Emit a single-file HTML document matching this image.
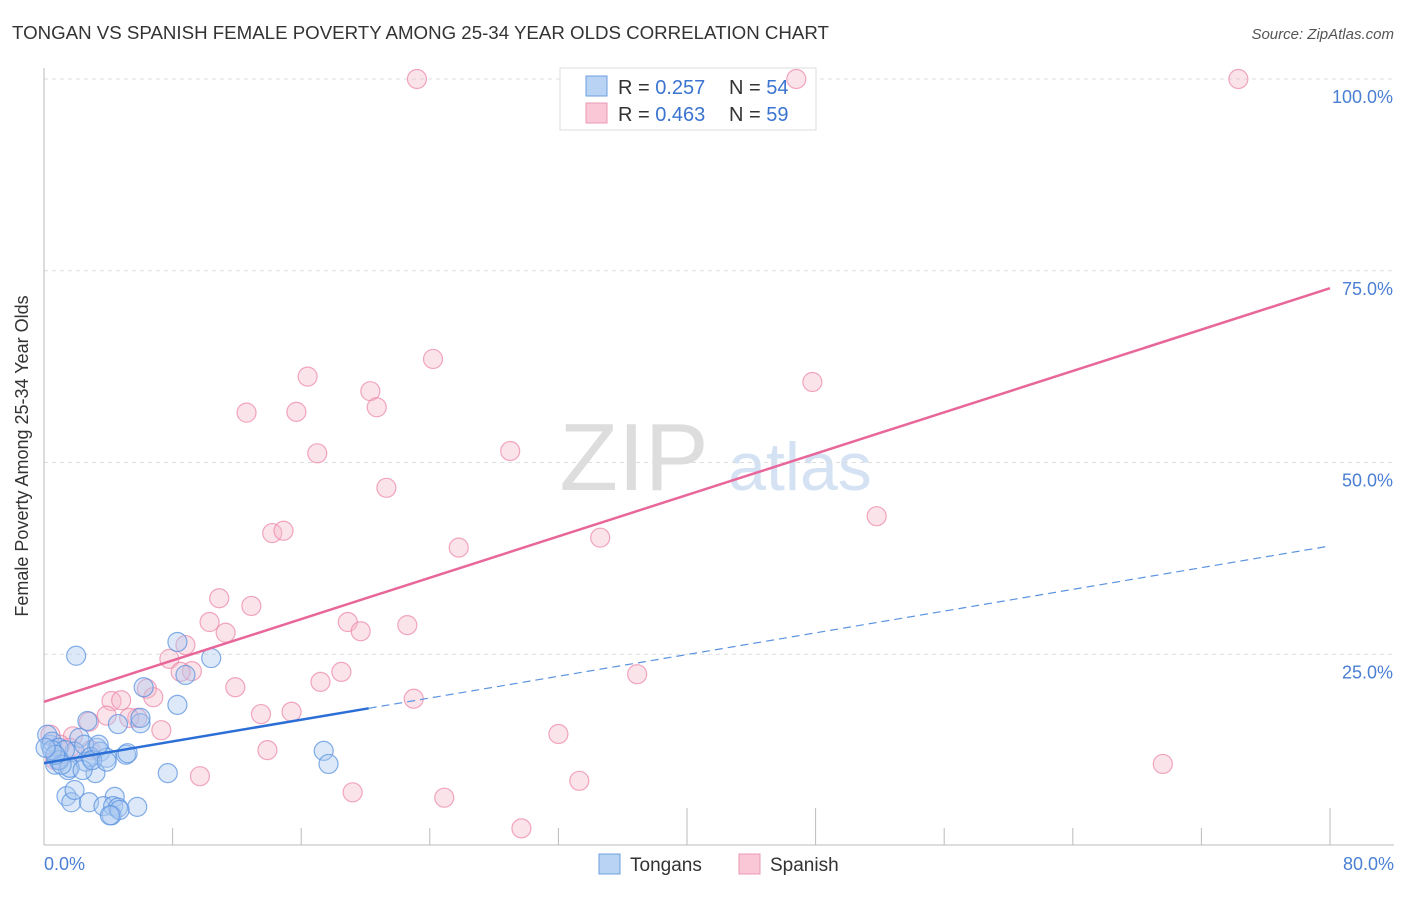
<!DOCTYPE html>
<html><head><meta charset="utf-8"><style>
body{margin:0;background:#fff;font-family:"Liberation Sans",sans-serif;}
svg text{font-family:"Liberation Sans",sans-serif;}
</style></head><body>
<svg width="1406" height="892" xmlns="http://www.w3.org/2000/svg">
<text x="12" y="39" font-size="18.7" fill="#333">TONGAN VS SPANISH FEMALE POVERTY AMONG 25-34 YEAR OLDS CORRELATION CHART</text>
<text x="1394" y="39" font-size="15" fill="#555" font-style="italic" text-anchor="end">Source: ZipAtlas.com</text>
<text x="634" y="490" font-size="96" fill="#ddd" font-family="Liberation Serif" text-anchor="middle">ZIP</text>
<text x="800" y="490" font-size="68" fill="#d4e2f4" text-anchor="middle">atlas</text>
<g id="grid"></g>
<g id="axes"></g>
<g>
<rect x="560" y="68" width="256" height="62" fill="#fff" stroke="#ddd"/>
<rect x="586" y="76" width="21" height="20" fill="#b9d3f5" stroke="#6d9ee0"/>
<rect x="586" y="103" width="21" height="20" fill="#f9c7d6" stroke="#ec9ab6"/>
<text x="618" y="94" font-size="20" fill="#333">R = <tspan fill="#3a74d0">0.257</tspan></text>
<text x="729" y="94" font-size="20" fill="#333">N = <tspan fill="#3a74d0">54</tspan></text>
<text x="618" y="121" font-size="20" fill="#333">R = <tspan fill="#3a74d0">0.463</tspan></text>
<text x="729" y="121" font-size="20" fill="#333">N = <tspan fill="#3a74d0">59</tspan></text>
</g>
<g id="pts"></g>
<g id="trends"></g>
<text x="28" y="456" font-size="18" fill="#333" text-anchor="middle" transform="rotate(-90 28 456)">Female Poverty Among 25-34 Year Olds</text>
<text x="44" y="870" font-size="18" fill="#4a7fd4">0.0%</text>
<text x="1394" y="870" font-size="18" fill="#4a7fd4" text-anchor="end">80.0%</text>
<g>
<rect x="599" y="854" width="21" height="20" fill="#b9d3f5" stroke="#6d9ee0"/>
<text x="630" y="871" font-size="19" fill="#333">Tongans</text>
<rect x="739" y="854" width="21" height="20" fill="#f9c7d6" stroke="#ec9ab6"/>
<text x="770" y="871" font-size="19" fill="#333">Spanish</text>
</g>
</svg>
<script>
const blueX=[2.0,8.3,10.4,6.2,8.8,8.3,2.7,4.6,6.0,5.1,2.2,3.3,0.4,1.0,1.9,3.5,3.9,0.7,1.5,3.2,7.7,17.4,17.7,1.4,1.7,2.8,4.4,3.7,4.3,4.6,5.8,4.2,4.7,0.2,0.5,0.9,2.5,1.3,2.6,2.9,1.6,0.9,1.1,0.5,0.7,5.2,2.4,3.0,0.1,4.1,1.9,3.4,6.0,3.9];
const blueY=[24.8,26.6,24.5,20.7,22.3,18.4,16.3,15.9,16.0,11.9,14.1,12.8,13.2,11.2,12.3,12.3,11.5,10.6,9.9,9.5,9.5,12.4,10.7,6.5,5.7,5.7,6.4,5.2,5.2,5.0,5.1,4.0,4.7,14.5,13.6,12.8,13.2,12.5,11.0,11.6,10.2,11.2,10.6,12.5,11.9,12.1,9.9,11.2,12.8,4.0,7.3,13.2,16.7,11.0];
const pinkX=[23.2,46.8,74.3,24.2,16.4,47.8,20.3,20.7,12.6,15.7,17.0,29.0,21.3,51.8,14.2,14.9,25.8,34.6,10.9,12.9,10.3,11.3,18.9,19.7,22.6,8.8,7.8,9.2,8.5,36.9,18.5,17.2,11.9,6.4,6.8,4.2,4.8,23.0,13.5,15.4,5.8,3.9,5.3,2.8,7.3,1.8,13.9,32.0,69.6,9.7,33.3,19.2,24.9,29.7,0.4,1.0,1.6,2.9,0.7];
const pinkY=[100,100,100,63.5,61.2,60.5,59.3,57.2,56.5,56.6,51.2,51.5,46.7,43.0,40.8,41.1,38.9,40.2,32.3,31.3,29.2,27.8,29.2,28.0,28.8,26.2,24.4,22.8,22.7,22.4,22.7,21.4,20.7,20.5,19.4,18.9,19.0,19.2,17.2,17.5,16.7,17.0,16.7,16.2,15.1,14.3,12.5,14.6,10.7,9.1,8.5,7.0,6.3,2.3,14.5,13.2,12.8,12.5,11.2];
const yTicks=[25,50,75,100];
const xTicks=[0,8,16,24,32,40,48,56,64,72,80];
const blueTrend=[10.8,0.354];
const pinkTrend=[18.8,0.674];
const blueSolidEnd=20.2;
const NS="http://www.w3.org/2000/svg";
const X=v=>44+v/80*1286, Y=v=>846-v/100*767;
function mk(t,a,p){const e=document.createElementNS(NS,t);for(const k in a)e.setAttribute(k,a[k]);document.getElementById(p).appendChild(e);return e;}
yTicks.forEach(t=>{
 const l=mk('line',{x1:44,x2:1394,y1:Y(t),y2:Y(t),stroke:'#ddd','stroke-dasharray':'4,4'},'grid');
 
 
 const tx=mk('text',{x:1393,y:Y(t)+24,'font-size':18,fill:'#4a7fd4','text-anchor':'end'},'grid');
 tx.textContent=t.toFixed(1)+'%';
 
 
});
let a=mk('line',{x1:44,x2:44,y1:68,y2:845,stroke:'#bbb'},'axes');


a=mk('line',{x1:44,x2:1394,y1:845,y2:845,stroke:'#bbb'},'axes');


xTicks.forEach((t,i)=>{if(i===0)return;const tall=(t===40||t===48||t===80);
 const l=mk('line',{x1:X(t),x2:X(t),y1:tall?808:828,y2:845,stroke:'#bbb'},'axes');
 
 
});
function pts(xs,ys,fill,stroke,name){xs.forEach((x,i)=>{
 const c=mk('circle',{cx:X(x),cy:Y(ys[i]),r:9.5,fill:fill,'fill-opacity':0.4,stroke:stroke,'stroke-opacity':0.75,'stroke-width':1.2},'pts');
 
 
});}
pts(pinkX,pinkY,'#f5b8cb','#ec8aab','spanish-point');
pts(blueX,blueY,'#a9c8f0','#5b93e0','tongan-point');
let t=mk('line',{x1:X(0),y1:Y(pinkTrend[0]),x2:X(80),y2:Y(pinkTrend[0]+pinkTrend[1]*80),stroke:'#e8679a','stroke-width':2.5},'trends');


t=mk('line',{x1:X(0),y1:Y(blueTrend[0]),x2:X(blueSolidEnd),y2:Y(blueTrend[0]+blueTrend[1]*blueSolidEnd),stroke:'#2b6fd6','stroke-width':2.5},'trends');


t=mk('line',{x1:X(blueSolidEnd),y1:Y(blueTrend[0]+blueTrend[1]*blueSolidEnd),x2:X(80),y2:Y(blueTrend[0]+blueTrend[1]*80),stroke:'#5b93e0','stroke-width':1.2,'stroke-dasharray':'8,5'},'trends');


</script>
</body></html>
